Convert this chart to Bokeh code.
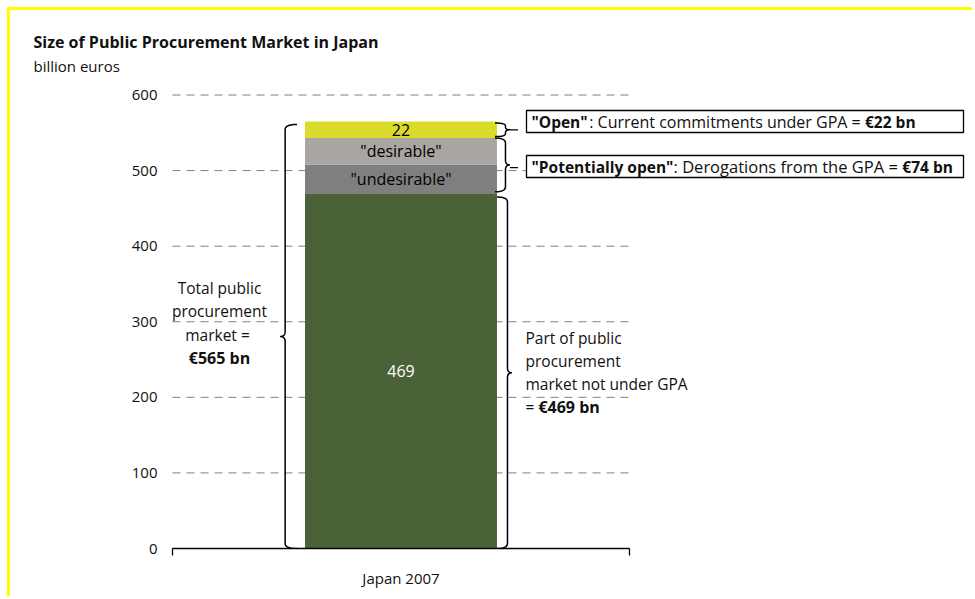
import numpy as np
from bokeh.plotting import figure
from bokeh.models import Label, FixedTicker, Range1d, ColumnDataSource, Title
from bokeh.core.properties import value
from bokeh.embed import file_html
from bokeh.resources import INLINE

# ---------------- data ----------------
chart_title = "Size of Public Procurement Market in Japan"
unit_label = "billion euros"
category = "Japan 2007"
segments = ["not_under_gpa", "undesirable", "desirable", "open"]
segment_values = [469, 39, 35, 22]
segment_labels = ["469", '"undesirable"', '"desirable"', "22"]
segment_colors = ["#4B6238", "#7F7F7F", "#A9A5A2", "#DBDB2B"]
segment_text_colors = ["#FFFFFF", "#000000", "#000000", "#000000"]
y_ticks = [0, 100, 200, 300, 400, 500, 600]
total_market = 565
open_market = 22
potentially_open = 74
not_under_gpa = 469

# ---------------- layout ----------------
FONT = "Open Sans"
OX, OY = 10, 10            # page position of the canvas (inside the yellow frame)
W, H = 975 - OX, 599 - OY
FRAME_LEFT, FRAME_TOP, FRAME_BOTTOM = 164, 75, 548   # page coordinates
BL = FRAME_LEFT - OX
BT = FRAME_TOP - OY
BB = OY + H - FRAME_BOTTOM
BR = 0
FRAME_W = W - BL - BR
FRAME_H = H - BT - BB
AXIS_X0 = 172              # page x where the category axis starts
X_UNIT_PX = 457.0          # pixels for the category axis span (0..1)
Y_UNIT_PX = 0.7558         # pixels per billion euro

x_start = (FRAME_LEFT - AXIS_X0) / X_UNIT_PX
x_end = (FRAME_LEFT + FRAME_W - AXIS_X0) / X_UNIT_PX
y_end = FRAME_H / Y_UNIT_PX


def ix(px):  # page x -> data x
    return (px - AXIS_X0) / X_UNIT_PX


def iy(py):  # page y -> data y
    return (FRAME_BOTTOM - py) / Y_UNIT_PX


def dxp(px):
    return px / X_UNIT_PX


def dyp(px):
    return px / Y_UNIT_PX


# approximate Open Sans advance widths (units per em = 2048)
REG = {' ': 532, '"': 821, '=': 1171, ':': 545, '\u20ac': 1171, 'A': 1296, 'C': 1292,
       'D': 1479, 'G': 1479, 'O': 1599, 'P': 1237, 'a': 1139, 'b': 1255, 'c': 975,
       'd': 1255, 'e': 1149, 'f': 694, 'g': 1122, 'h': 1257, 'i': 518, 'l': 518,
       'm': 1905, 'n': 1257, 'o': 1237, 'p': 1255, 'r': 836, 's': 977, 't': 723,
       'u': 1257, 'y': 1028}
BOLD = {' ': 532, '"': 1073, '\u20ac': 1171, 'O': 1653, 'P': 1296, 'a': 1198, 'b': 1300,
        'e': 1208, 'i': 614, 'l': 614, 'n': 1317, 'o': 1268, 'p': 1300, 't': 863, 'y': 1139}


def text_w(text, size, bold=False):
    table = BOLD if bold else REG
    return sum(table.get(c, 1171) for c in text) / 2048.0 * size


p = figure(width=W, height=H, output_backend="svg", toolbar_location=None,
           x_range=Range1d(x_start, x_end), y_range=Range1d(0, y_end),
           min_border_left=BL, min_border_right=BR, min_border_top=BT,
           min_border_bottom=BB)
p.outline_line_color = None
p.xgrid.visible = False
p.ygrid.visible = False
p.background_fill_color = "white"
p.border_fill_color = "white"
p.styles = {"margin-left": "7px", "margin-top": "7px",
            "border-left": "3px solid #FFFF00", "border-top": "3px solid #FFFF00"}

# titles: main title is the plot title, the unit line is stacked below it
TITLE_OFFSET = 33 - FRAME_LEFT
p.title.text = chart_title
p.title.align = "left"
p.title.offset = TITLE_OFFSET
p.title.text_font = FONT
p.title.text_font_size = "16px"
p.title.text_font_style = "bold"
p.title.text_color = "#111111"
p.title.standoff = 1
p.add_layout(Title(text=unit_label, align="left", offset=TITLE_OFFSET, text_font=FONT,
                   text_font_size="15px", text_font_style="normal", text_color="#111111",
                   standoff=0), "above")

# x axis
xa = p.xaxis[0]
xa.ticker = FixedTicker(ticks=[0.5], minor_ticks=[0.0, 1.0])
xa.bounds = (0, 1)
xa.axis_line_color = "black"
xa.axis_line_width = 1.3
xa.major_tick_line_color = None
xa.major_tick_out = 0
xa.major_tick_in = 0
xa.minor_tick_line_color = "black"
xa.minor_tick_line_width = 1.3
xa.minor_tick_out = 7
xa.minor_tick_in = 0
xa.major_label_overrides = {0.5: category}
xa.major_label_standoff = 12
xa.major_label_text_font = FONT
xa.major_label_text_font_size = "15px"
xa.major_label_text_color = "#111111"

# y axis
ya = p.yaxis[0]
ya.ticker = FixedTicker(ticks=y_ticks, minor_ticks=[])
ya.axis_line_color = None
ya.major_tick_line_color = None
ya.minor_tick_line_color = None
ya.major_tick_out = 0
ya.major_tick_in = 0
ya.major_label_standoff = 7
ya.major_label_text_font = FONT
ya.major_label_text_font_size = "15px"
ya.major_label_text_color = "#111111"

# dashed grid lines across the category span
grid_y = [t for t in y_ticks if t > 0]
p.segment(x0=[0.0] * len(grid_y), x1=[1.0] * len(grid_y), y0=grid_y, y1=grid_y,
          line_color="#7F7F7F", line_width=1, line_dash="8 6")

# stacked bar
BAR_W = 0.42
src = ColumnDataSource(dict(x=[0.5], **{s: [v] for s, v in zip(segments, segment_values)}))
p.vbar_stack(segments, x="x", width=BAR_W, color=segment_colors, line_color=None, source=src)

bottoms = np.concatenate([[0], np.cumsum(segment_values)[:-1]])
mids = bottoms + np.array(segment_values) / 2
p.text(x=[0.5] * len(segments), y=list(mids), text=segment_labels,
       text_color=segment_text_colors, text_align="center", text_baseline="middle",
       text_font=value(FONT), text_font_size="16px")


# braces
def brace(xb, y0, y1, depth_px, direction, r_px=5):
    tip = (y0 + y1) / 2
    d = dxp(depth_px) * direction
    h = d * 0.7
    r = dyp(min(r_px, (y1 - y0) * Y_UNIT_PX / 4))
    t = np.linspace(0, 1, 14)

    def qb(a, c, b):
        return ((1 - t) ** 2 * a[0] + 2 * (1 - t) * t * c[0] + t ** 2 * b[0],
                (1 - t) ** 2 * a[1] + 2 * (1 - t) * t * c[1] + t ** 2 * b[1])

    parts = [
        qb((xb, y1), (xb + h, y1), (xb + h, y1 - r)),
        (np.array([xb + h, xb + h]), np.array([y1 - r, tip + r])),
        qb((xb + h, tip + r), (xb + h, tip), (xb + d, tip)),
        qb((xb + d, tip), (xb + h, tip), (xb + h, tip - r)),
        (np.array([xb + h, xb + h]), np.array([tip - r, y0 + r])),
        qb((xb + h, y0 + r), (xb + h, y0), (xb, y0)),
    ]
    return list(np.concatenate([q[0] for q in parts])), list(np.concatenate([q[1] for q in parts]))


bar_left = 0.5 - BAR_W / 2
bar_right = 0.5 + BAR_W / 2
braces = [
    brace(bar_left - dxp(8), 0, total_market - 4, 17, -1),
    brace(bar_right, 0, not_under_gpa - 4, 15, +1),
    brace(bar_right - dxp(2), not_under_gpa + 3, total_market - open_market, 15, +1),
    brace(bar_right - dxp(2), total_market - open_market + 2, total_market - 2, 15, +1, r_px=3),
]
p.multi_line(xs=[b[0] for b in braces], ys=[b[1] for b in braces],
             line_color="black", line_width=1.5)

# connector stubs
open_mid = total_market - open_market / 2
pot_mid = not_under_gpa + potentially_open / 2 - 2
p.segment(x0=[bar_right + dxp(13)] * 2, x1=[bar_right + dxp(21)] * 2,
          y0=[open_mid, pot_mid], y1=[open_mid, pot_mid], line_color="black", line_width=1.2)

# boxes (opaque, covering the grid lines)
p.quad(left=[ix(526)] * 2, right=[ix(963)] * 2,
       bottom=[iy(132), iy(177)], top=[iy(110), iy(155)],
       fill_color="white", line_color="black", line_width=1.3)


def lab(x, y, text, bold=False, size=15, align="left"):
    p.add_layout(Label(x=x, y=y, text=text, text_font=FONT, text_font_size="%gpx" % size,
                       text_font_style="bold" if bold else "normal", text_align=align,
                       text_baseline="middle", text_color="#111111"))


def chain(x_px, y, pieces):
    for text, bold, size in pieces:
        lab(ix(x_px), y, text, bold=bold, size=size)
        x_px += text_w(text, size, bold)


# box texts
chain(531, iy(121), [('"Open"', True, 15.5), (": Current commitments under GPA = ", False, 16),
                     ("\u20ac%d bn" % open_market, True, 15.5)])
chain(531, iy(166), [('"Potentially open"', True, 15.5), (": Derogations from the GPA = ", False, 16.5),
                     ("\u20ac%d bn" % potentially_open, True, 15.5)])

# left annotation
cx = ix(219)
lab(cx, iy(287), "Total public", align="center", size=15.5)
lab(cx, iy(310.5), "procurement", align="center", size=15.5)
lab(cx, iy(334), "market  =", align="center", size=15.5)
lab(cx, iy(357.5), "\u20ac%d bn" % total_market, bold=True, align="center", size=16)

# right annotation
lab(ix(525), iy(337), "Part of public", size=15.5)
lab(ix(525), iy(360), "procurement", size=15.5)
lab(ix(525), iy(383), "market not under GPA", size=15.5)
chain(525, iy(406), [("= ", False, 15.5), ("\u20ac%d bn" % not_under_gpa, True, 16)])

open("out.html", "w").write(file_html(p, INLINE))
